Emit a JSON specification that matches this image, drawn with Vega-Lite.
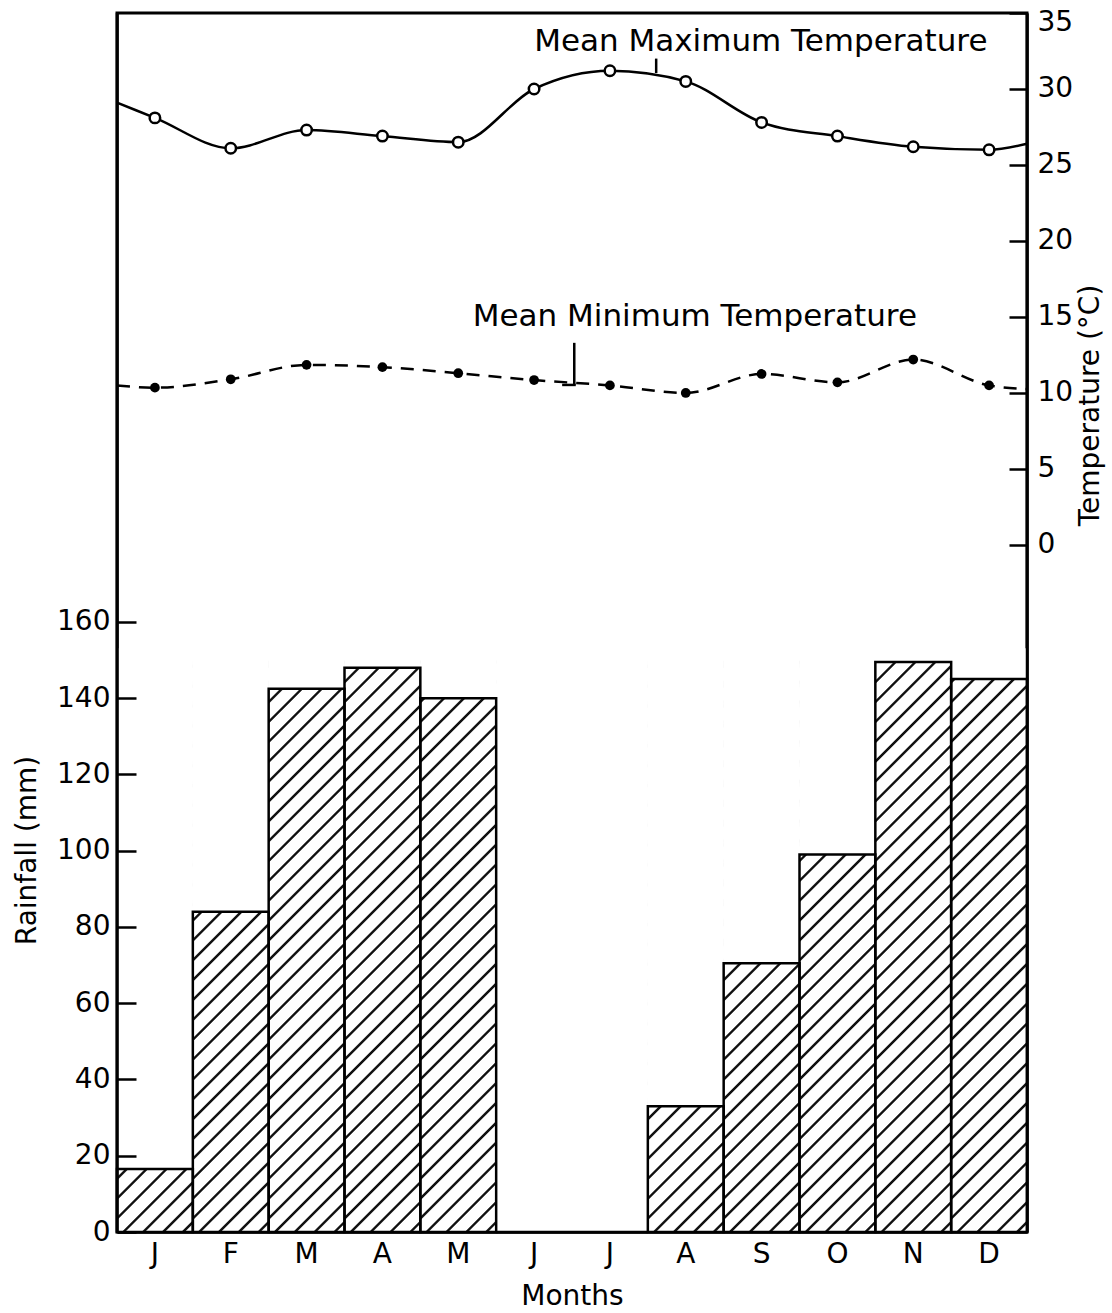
{
  "$schema": "https://vega.github.io/schema/vega-lite/v6.json",
  "width": 910,
  "height": 1219,
  "autosize": {"type": "none"},
  "padding": {"left": 117, "top": 13, "right": 85, "bottom": 81},
  "background": "#ffffff",
  "config": {
    "font": "DejaVu Sans",
    "view": {"stroke": "#000000", "strokeWidth": 3},
    "axis": {
      "labelColor": "#000000",
      "titleColor": "#000000",
      "tickColor": "#000000",
      "labelFontSize": 28,
      "titleFontSize": 28,
      "titleFontWeight": "normal",
      "grid": false,
      "domain": true,
      "domainColor": "#000000",
      "domainWidth": 2.5,
      "tickWidth": 2.5
    }
  },
  "datasets": {
    "rain": [
      {"month": "Jan", "rain": 16.5},
      {"month": "Feb", "rain": 84},
      {"month": "Mar", "rain": 142.5},
      {"month": "Apr", "rain": 148},
      {"month": "May", "rain": 140},
      {"month": "Jun", "rain": 0},
      {"month": "Jul", "rain": 0},
      {"month": "Aug", "rain": 33},
      {"month": "Sep", "rain": 70.5},
      {"month": "Oct", "rain": 99},
      {"month": "Nov", "rain": 149.5},
      {"month": "Dec", "rain": 145}
    ],
    "temp": [
      {"m": 0, "tmax": 29.1, "tmin": 10.5},
      {"m": 0.5, "tmax": 28.1, "tmin": 10.35},
      {"m": 1.5, "tmax": 26.1, "tmin": 10.9},
      {"m": 2.5, "tmax": 27.3, "tmin": 11.85},
      {"m": 3.5, "tmax": 26.9, "tmin": 11.7},
      {"m": 4.5, "tmax": 26.5, "tmin": 11.3},
      {"m": 5.5, "tmax": 30.0, "tmin": 10.85},
      {"m": 6.5, "tmax": 31.2, "tmin": 10.5},
      {"m": 7.5, "tmax": 30.5, "tmin": 10.0},
      {"m": 8.5, "tmax": 27.8, "tmin": 11.25},
      {"m": 9.5, "tmax": 26.9, "tmin": 10.7},
      {"m": 10.5, "tmax": 26.2, "tmin": 12.2},
      {"m": 11.5, "tmax": 26.0, "tmin": 10.5},
      {"m": 12, "tmax": 26.4, "tmin": 10.25}
    ],
    "notes": [
      {"label": "Mean Maximum Temperature", "m": 8.49, "t": 33.1},
      {"label": "Mean Minimum Temperature", "m": 7.62, "t": 15.0}
    ],
    "leaders": [
      {"m": 7.11, "m2": 7.11, "t": 32.0, "t2": 31.05},
      {"m": 6.03, "m2": 6.03, "t": 13.3, "t2": 10.53},
      {"m": 5.87, "m2": 6.05, "t": 10.53, "t2": 10.53}
    ],
    "frame": [
      {"edge": 0},
      {"edge": 12}
    ]
  },
  "layer": [
    {
      "data": {"name": "rain"},
      "encoding": {
        "x": {
          "field": "month",
          "type": "nominal",
          "sort": null,
          "scale": {"paddingInner": 0, "paddingOuter": 0},
          "axis": {
            "labelExpr": "substring(datum.label,0,1)",
            "labelAngle": 0,
            "ticks": false,
            "labelPadding": 8,
            "title": "Months",
            "titlePadding": 14,
            "zindex": 1
          }
        }
      },
      "layer": [
        {
          "mark": {
            "type": "bar",
            "strokeWidth": 0,
            "fill": {
              "gradient": "linear",
              "x1": 0, "y1": 0, "x2": 0.1455, "y2": 1.1119,
              "stops": [
                {"offset": 0, "color": "#ffffff"},
                {"offset": 0.0115, "color": "#ffffff"}, {"offset": 0.0136, "color": "#111111"}, {"offset": 0.0167, "color": "#111111"}, {"offset": 0.0188, "color": "#ffffff"},
                {"offset": 0.0418, "color": "#ffffff"}, {"offset": 0.0439, "color": "#111111"}, {"offset": 0.0470, "color": "#111111"}, {"offset": 0.0491, "color": "#ffffff"},
                {"offset": 0.0721, "color": "#ffffff"}, {"offset": 0.0742, "color": "#111111"}, {"offset": 0.0773, "color": "#111111"}, {"offset": 0.0794, "color": "#ffffff"},
                {"offset": 0.1024, "color": "#ffffff"}, {"offset": 0.1045, "color": "#111111"}, {"offset": 0.1076, "color": "#111111"}, {"offset": 0.1097, "color": "#ffffff"},
                {"offset": 0.1327, "color": "#ffffff"}, {"offset": 0.1348, "color": "#111111"}, {"offset": 0.1379, "color": "#111111"}, {"offset": 0.1400, "color": "#ffffff"},
                {"offset": 0.1630, "color": "#ffffff"}, {"offset": 0.1651, "color": "#111111"}, {"offset": 0.1682, "color": "#111111"}, {"offset": 0.1703, "color": "#ffffff"},
                {"offset": 0.1933, "color": "#ffffff"}, {"offset": 0.1954, "color": "#111111"}, {"offset": 0.1985, "color": "#111111"}, {"offset": 0.2006, "color": "#ffffff"},
                {"offset": 0.2236, "color": "#ffffff"}, {"offset": 0.2257, "color": "#111111"}, {"offset": 0.2288, "color": "#111111"}, {"offset": 0.2309, "color": "#ffffff"},
                {"offset": 0.2539, "color": "#ffffff"}, {"offset": 0.2560, "color": "#111111"}, {"offset": 0.2591, "color": "#111111"}, {"offset": 0.2612, "color": "#ffffff"},
                {"offset": 0.2842, "color": "#ffffff"}, {"offset": 0.2863, "color": "#111111"}, {"offset": 0.2894, "color": "#111111"}, {"offset": 0.2915, "color": "#ffffff"},
                {"offset": 0.3145, "color": "#ffffff"}, {"offset": 0.3166, "color": "#111111"}, {"offset": 0.3197, "color": "#111111"}, {"offset": 0.3218, "color": "#ffffff"},
                {"offset": 0.3448, "color": "#ffffff"}, {"offset": 0.3469, "color": "#111111"}, {"offset": 0.3500, "color": "#111111"}, {"offset": 0.3521, "color": "#ffffff"},
                {"offset": 0.3751, "color": "#ffffff"}, {"offset": 0.3772, "color": "#111111"}, {"offset": 0.3803, "color": "#111111"}, {"offset": 0.3824, "color": "#ffffff"},
                {"offset": 0.4054, "color": "#ffffff"}, {"offset": 0.4075, "color": "#111111"}, {"offset": 0.4106, "color": "#111111"}, {"offset": 0.4127, "color": "#ffffff"},
                {"offset": 0.4357, "color": "#ffffff"}, {"offset": 0.4378, "color": "#111111"}, {"offset": 0.4409, "color": "#111111"}, {"offset": 0.4430, "color": "#ffffff"},
                {"offset": 0.4660, "color": "#ffffff"}, {"offset": 0.4681, "color": "#111111"}, {"offset": 0.4712, "color": "#111111"}, {"offset": 0.4733, "color": "#ffffff"},
                {"offset": 0.4963, "color": "#ffffff"}, {"offset": 0.4984, "color": "#111111"}, {"offset": 0.5015, "color": "#111111"}, {"offset": 0.5036, "color": "#ffffff"},
                {"offset": 0.5267, "color": "#ffffff"}, {"offset": 0.5288, "color": "#111111"}, {"offset": 0.5319, "color": "#111111"}, {"offset": 0.5340, "color": "#ffffff"},
                {"offset": 0.5570, "color": "#ffffff"}, {"offset": 0.5591, "color": "#111111"}, {"offset": 0.5622, "color": "#111111"}, {"offset": 0.5643, "color": "#ffffff"},
                {"offset": 0.5873, "color": "#ffffff"}, {"offset": 0.5894, "color": "#111111"}, {"offset": 0.5925, "color": "#111111"}, {"offset": 0.5946, "color": "#ffffff"},
                {"offset": 0.6176, "color": "#ffffff"}, {"offset": 0.6197, "color": "#111111"}, {"offset": 0.6228, "color": "#111111"}, {"offset": 0.6249, "color": "#ffffff"},
                {"offset": 0.6479, "color": "#ffffff"}, {"offset": 0.6500, "color": "#111111"}, {"offset": 0.6531, "color": "#111111"}, {"offset": 0.6552, "color": "#ffffff"},
                {"offset": 0.6782, "color": "#ffffff"}, {"offset": 0.6803, "color": "#111111"}, {"offset": 0.6834, "color": "#111111"}, {"offset": 0.6855, "color": "#ffffff"},
                {"offset": 0.7085, "color": "#ffffff"}, {"offset": 0.7106, "color": "#111111"}, {"offset": 0.7137, "color": "#111111"}, {"offset": 0.7158, "color": "#ffffff"},
                {"offset": 0.7388, "color": "#ffffff"}, {"offset": 0.7409, "color": "#111111"}, {"offset": 0.7440, "color": "#111111"}, {"offset": 0.7461, "color": "#ffffff"},
                {"offset": 0.7691, "color": "#ffffff"}, {"offset": 0.7712, "color": "#111111"}, {"offset": 0.7743, "color": "#111111"}, {"offset": 0.7764, "color": "#ffffff"},
                {"offset": 0.7994, "color": "#ffffff"}, {"offset": 0.8015, "color": "#111111"}, {"offset": 0.8046, "color": "#111111"}, {"offset": 0.8067, "color": "#ffffff"},
                {"offset": 0.8297, "color": "#ffffff"}, {"offset": 0.8318, "color": "#111111"}, {"offset": 0.8349, "color": "#111111"}, {"offset": 0.8370, "color": "#ffffff"},
                {"offset": 0.8600, "color": "#ffffff"}, {"offset": 0.8621, "color": "#111111"}, {"offset": 0.8652, "color": "#111111"}, {"offset": 0.8673, "color": "#ffffff"},
                {"offset": 0.8903, "color": "#ffffff"}, {"offset": 0.8924, "color": "#111111"}, {"offset": 0.8955, "color": "#111111"}, {"offset": 0.8976, "color": "#ffffff"},
                {"offset": 0.9206, "color": "#ffffff"}, {"offset": 0.9227, "color": "#111111"}, {"offset": 0.9258, "color": "#111111"}, {"offset": 0.9279, "color": "#ffffff"},
                {"offset": 0.9509, "color": "#ffffff"}, {"offset": 0.9530, "color": "#111111"}, {"offset": 0.9561, "color": "#111111"}, {"offset": 0.9582, "color": "#ffffff"},
                {"offset": 0.9812, "color": "#ffffff"}, {"offset": 0.9833, "color": "#111111"}, {"offset": 0.9864, "color": "#111111"}, {"offset": 0.9885, "color": "#ffffff"},
                {"offset": 1, "color": "#ffffff"}
              ]
            }
          },
          "encoding": {
            "y": {
              "datum": 0,
              "type": "quantitative",
              "scale": {"domain": [0, 319.7], "nice": false, "zero": false},
              "axis": {
                "orient": "left",
                "values": [0, 20, 40, 60, 80, 100, 120, 140, 160],
                "tickSize": -19,
                "labelPadding": 26,
                "title": "Rainfall (mm)",
                "titleAngle": 270,
                "titleAlign": "center",
                "titleBaseline": "alphabetic",
                "titleX": -82,
                "titleY": 837,
                "zindex": 1
              }
            },
            "y2": {"datum": 152}
          }
        },
        {
          "mark": {"type": "bar", "fill": "#ffffff", "strokeWidth": 0},
          "encoding": {
            "y": {
              "field": "rain",
              "type": "quantitative",
              "scale": {"domain": [0, 319.7], "nice": false, "zero": false},
              "axis": {
                "orient": "left",
                "values": [0, 20, 40, 60, 80, 100, 120, 140, 160],
                "tickSize": -19,
                "labelPadding": 26,
                "title": "Rainfall (mm)",
                "titleAngle": 270,
                "titleAlign": "center",
                "titleBaseline": "alphabetic",
                "titleX": -82,
                "titleY": 837,
                "zindex": 1
              }
            },
            "y2": {"datum": 153}
          }
        },
        {
          "mark": {"type": "bar", "fill": "#ffffff", "strokeWidth": 0},
          "encoding": {
            "y": {
              "field": "rain",
              "type": "quantitative",
              "scale": {"domain": [0, 319.7], "nice": false, "zero": false},
              "axis": {
                "orient": "left",
                "values": [0, 20, 40, 60, 80, 100, 120, 140, 160],
                "tickSize": -19,
                "labelPadding": 26,
                "title": "Rainfall (mm)",
                "titleAngle": 270,
                "titleAlign": "center",
                "titleBaseline": "alphabetic",
                "titleX": -82,
                "titleY": 837,
                "zindex": 1
              }
            },
            "y2": {"datum": 153}
          }
        },
        {
          "mark": {"type": "bar", "fill": "#ffffff", "fillOpacity": 0, "stroke": "#000000", "strokeWidth": 2.5},
          "encoding": {
            "y": {
              "field": "rain",
              "type": "quantitative",
              "scale": {"domain": [0, 319.7], "nice": false, "zero": false},
              "axis": {
                "orient": "left",
                "values": [0, 20, 40, 60, 80, 100, 120, 140, 160],
                "tickSize": -19,
                "labelPadding": 26,
                "title": "Rainfall (mm)",
                "titleAngle": 270,
                "titleAlign": "center",
                "titleBaseline": "alphabetic",
                "titleX": -82,
                "titleY": 837,
                "zindex": 1
              }
            }
          }
        }
      ]
    },
    {
      "data": {"name": "temp"},
      "encoding": {
        "x": {"field": "m", "type": "quantitative", "scale": {"domain": [0, 12], "nice": false, "zero": false}, "axis": null}
      },
      "layer": [
        {
          "mark": {"type": "line", "interpolate": "monotone", "stroke": "#000000", "strokeWidth": 2.5},
          "encoding": {
            "y": {
              "field": "tmax",
              "type": "quantitative",
              "scale": {"domain": [-45.2, 35], "nice": false, "zero": false},
              "axis": {
                "orient": "right",
                "values": [0, 5, 10, 15, 20, 25, 30, 35],
                "tickSize": -18,
                "labelPadding": 28,
                "labelFlush": true,
                "labelFlushOffset": 5,
                "title": "Temperature (°C)",
                "titleAngle": 270,
                "titleAlign": "center",
                "titleBaseline": "alphabetic",
                "titleX": 71,
                "titleY": 392,
                "zindex": 1
              }
            }
          }
        },
        {
          "mark": {"type": "line", "interpolate": "monotone", "stroke": "#000000", "strokeWidth": 2.5, "strokeDash": [13, 9]},
          "encoding": {
            "y": {
              "field": "tmin",
              "type": "quantitative",
              "scale": {"domain": [-45.2, 35], "nice": false, "zero": false},
              "axis": {
                "orient": "right",
                "values": [0, 5, 10, 15, 20, 25, 30, 35],
                "tickSize": -18,
                "labelPadding": 28,
                "labelFlush": true,
                "labelFlushOffset": 5,
                "title": "Temperature (°C)",
                "titleAngle": 270,
                "titleAlign": "center",
                "titleBaseline": "alphabetic",
                "titleX": 71,
                "titleY": 392,
                "zindex": 1
              }
            }
          }
        },
        {
          "transform": [{"filter": "datum.m > 0 && datum.m < 12"}],
          "mark": {"type": "point", "shape": "circle", "size": 110, "filled": true, "fill": "#ffffff", "stroke": "#000000", "strokeWidth": 2.5, "opacity": 1},
          "encoding": {
            "y": {
              "field": "tmax",
              "type": "quantitative",
              "scale": {"domain": [-45.2, 35], "nice": false, "zero": false},
              "axis": {
                "orient": "right",
                "values": [0, 5, 10, 15, 20, 25, 30, 35],
                "tickSize": -18,
                "labelPadding": 28,
                "labelFlush": true,
                "labelFlushOffset": 5,
                "title": "Temperature (°C)",
                "titleAngle": 270,
                "titleAlign": "center",
                "titleBaseline": "alphabetic",
                "titleX": 71,
                "titleY": 392,
                "zindex": 1
              }
            }
          }
        },
        {
          "transform": [{"filter": "datum.m > 0 && datum.m < 12"}],
          "mark": {"type": "circle", "size": 95, "color": "#000000", "opacity": 1},
          "encoding": {
            "y": {
              "field": "tmin",
              "type": "quantitative",
              "scale": {"domain": [-45.2, 35], "nice": false, "zero": false},
              "axis": {
                "orient": "right",
                "values": [0, 5, 10, 15, 20, 25, 30, 35],
                "tickSize": -18,
                "labelPadding": 28,
                "labelFlush": true,
                "labelFlushOffset": 5,
                "title": "Temperature (°C)",
                "titleAngle": 270,
                "titleAlign": "center",
                "titleBaseline": "alphabetic",
                "titleX": 71,
                "titleY": 392,
                "zindex": 1
              }
            }
          }
        },
        {
          "data": {"name": "notes"},
          "mark": {"type": "text", "fontSize": 31, "align": "center", "baseline": "middle", "color": "#000000"},
          "encoding": {
            "y": {
              "field": "t",
              "type": "quantitative",
              "scale": {"domain": [-45.2, 35], "nice": false, "zero": false},
              "axis": {
                "orient": "right",
                "values": [0, 5, 10, 15, 20, 25, 30, 35],
                "tickSize": -18,
                "labelPadding": 28,
                "labelFlush": true,
                "labelFlushOffset": 5,
                "title": "Temperature (°C)",
                "titleAngle": 270,
                "titleAlign": "center",
                "titleBaseline": "alphabetic",
                "titleX": 71,
                "titleY": 392,
                "zindex": 1
              }
            },
            "text": {"field": "label"}
          }
        },
        {
          "data": {"name": "leaders"},
          "mark": {"type": "rule", "stroke": "#000000", "strokeWidth": 2.5},
          "encoding": {
            "x2": {"field": "m2"},
            "y": {
              "field": "t",
              "type": "quantitative",
              "scale": {"domain": [-45.2, 35], "nice": false, "zero": false},
              "axis": {
                "orient": "right",
                "values": [0, 5, 10, 15, 20, 25, 30, 35],
                "tickSize": -18,
                "labelPadding": 28,
                "labelFlush": true,
                "labelFlushOffset": 5,
                "title": "Temperature (°C)",
                "titleAngle": 270,
                "titleAlign": "center",
                "titleBaseline": "alphabetic",
                "titleX": 71,
                "titleY": 392,
                "zindex": 1
              }
            },
            "y2": {"field": "t2"}
          }
        },
        {
          "data": {"name": "frame"},
          "mark": {"type": "rule", "stroke": "#000000", "strokeWidth": 2.5},
          "encoding": {
            "x": {"field": "edge", "type": "quantitative", "scale": {"domain": [0, 12], "nice": false, "zero": false}, "axis": null},
            "y": {
              "datum": -45.2,
              "type": "quantitative",
              "scale": {"domain": [-45.2, 35], "nice": false, "zero": false},
              "axis": {
                "orient": "right",
                "values": [0, 5, 10, 15, 20, 25, 30, 35],
                "tickSize": -18,
                "labelPadding": 28,
                "labelFlush": true,
                "labelFlushOffset": 5,
                "title": "Temperature (°C)",
                "titleAngle": 270,
                "titleAlign": "center",
                "titleBaseline": "alphabetic",
                "titleX": 71,
                "titleY": 392,
                "zindex": 1
              }
            },
            "y2": {"datum": 35}
          }
        }
      ]
    }
  ],
  "resolve": {"scale": {"x": "independent", "y": "independent"}}
}
